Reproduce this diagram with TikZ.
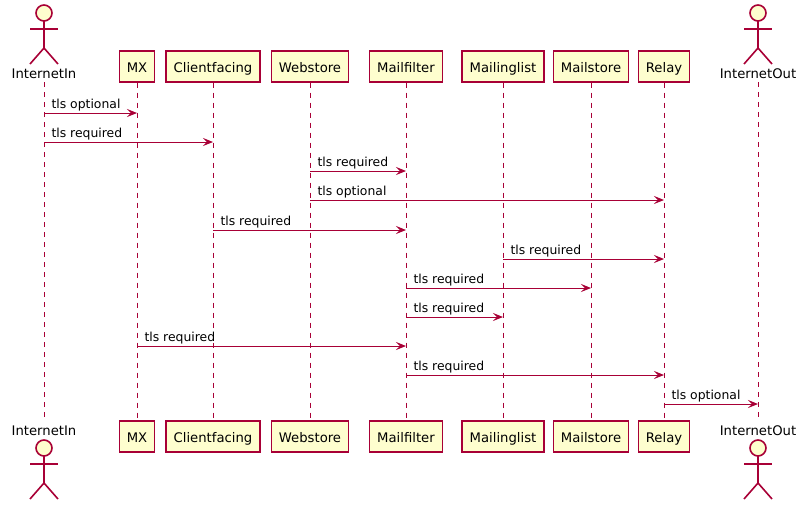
\documentclass[tikz,border=0pt]{standalone}
\usepackage{fontspec}
\setmainfont{DejaVu Sans}
\usetikzlibrary{arrows.meta}
\definecolor{pred}{HTML}{A80036}
\definecolor{pfill}{HTML}{FEFECE}
\newcommand\drawactor[2]{%
  \draw[actorline,fill=pfill] (#1,#2+13) circle (8);
  \draw[actorline] (#1,#2+21) -- (#1,#2+48);
  \draw[actorline] (#1-14,#2+29) -- (#1+14,#2+29);
  \draw[actorline] (#1-14,#2+64) -- (#1,#2+48) -- (#1+14,#2+64);
}
\begin{document}
\begin{tikzpicture}[x=1pt,y=-1pt,
 part/.style={draw=pred,fill=pfill,line width=1.2pt,minimum height=31pt,inner xsep=7.6pt,inner ysep=0pt,text height=13pt,text depth=2pt,font=\fontsize{13.2}{15}\selectfont},
 alabel/.style={font=\fontsize{13.2}{15}\selectfont,inner sep=0pt,anchor=base},
 life/.style={draw=pred,line width=1pt,dash pattern=on 5pt off 5pt},
 msg/.style={draw=pred,line width=1pt,-{Stealth[length=10pt,width=8pt,inset=4pt]}},
 mlabel/.style={font=\fontsize{12.4}{14}\selectfont,inner sep=0pt,anchor=base west,xshift=7pt,yshift=4.7pt,text=black},
 actorline/.style={draw=pred,line width=1.6pt}
]
\useasboundingbox (0,0) rectangle (806,509);
% actors
\drawactor{44}{0}
\drawactor{44}{435}
\drawactor{758}{0}
\drawactor{758}{435}
\node[alabel] (iiT) at (44,78) {InternetIn};
\node[alabel] (iiB) at (44,435) {InternetIn};
\node[alabel] (ioT) at (758,78) {InternetOut};
\node[alabel] (ioB) at (758,435) {InternetOut};
% participants
\node[part] (mxT) at (137,66.5) {MX};
\node[part] (cfT) at (213,66.5) {Clientfacing};
\node[part] (wsT) at (310,66.5) {Webstore};
\node[part] (mfT) at (406,66.5) {Mailfilter};
\node[part] (mlT) at (503,66.5) {Mailinglist};
\node[part] (msT) at (591,66.5) {Mailstore};
\node[part] (rlT) at (664,66.5) {Relay};
\node[part] (mxB) at (137,436.5) {MX};
\node[part] (cfB) at (213,436.5) {Clientfacing};
\node[part] (wsB) at (310,436.5) {Webstore};
\node[part] (mfB) at (406,436.5) {Mailfilter};
\node[part] (mlB) at (503,436.5) {Mailinglist};
\node[part] (msB) at (591,436.5) {Mailstore};
\node[part] (rlB) at (664,436.5) {Relay};
% lifelines
\draw[life] ([yshift=-4pt]iiT.south) -- ([yshift=4pt]iiB.north);
\draw[life] ([yshift=-4pt]ioT.south) -- ([yshift=4pt]ioB.north);
\foreach \p in {mx,cf,ws,mf,ml,ms,rl}{
  \draw[life] (\p T.south) -- (\p B.north);
}
% messages
\draw[msg] (iiT |- 0,113) -- (mxT |- 0,113) node[pos=0,mlabel]{tls optional};
\draw[msg] (iiT |- 0,142) -- (cfT |- 0,142) node[pos=0,mlabel]{tls required};
\draw[msg] (wsT |- 0,171) -- (mfT |- 0,171) node[pos=0,mlabel]{tls required};
\draw[msg] (wsT |- 0,200) -- (rlT |- 0,200) node[pos=0,mlabel]{tls optional};
\draw[msg] (cfT |- 0,230) -- (mfT |- 0,230) node[pos=0,mlabel]{tls required};
\draw[msg] (mlT |- 0,259) -- (rlT |- 0,259) node[pos=0,mlabel]{tls required};
\draw[msg] (mfT |- 0,288) -- (msT |- 0,288) node[pos=0,mlabel]{tls required};
\draw[msg] (mfT |- 0,317) -- (mlT |- 0,317) node[pos=0,mlabel]{tls required};
\draw[msg] (mxT |- 0,346) -- (mfT |- 0,346) node[pos=0,mlabel]{tls required};
\draw[msg] (mfT |- 0,375) -- (rlT |- 0,375) node[pos=0,mlabel]{tls required};
\draw[msg] (rlT |- 0,404) -- (ioT |- 0,404) node[pos=0,mlabel]{tls optional};
\end{tikzpicture}
\end{document}
